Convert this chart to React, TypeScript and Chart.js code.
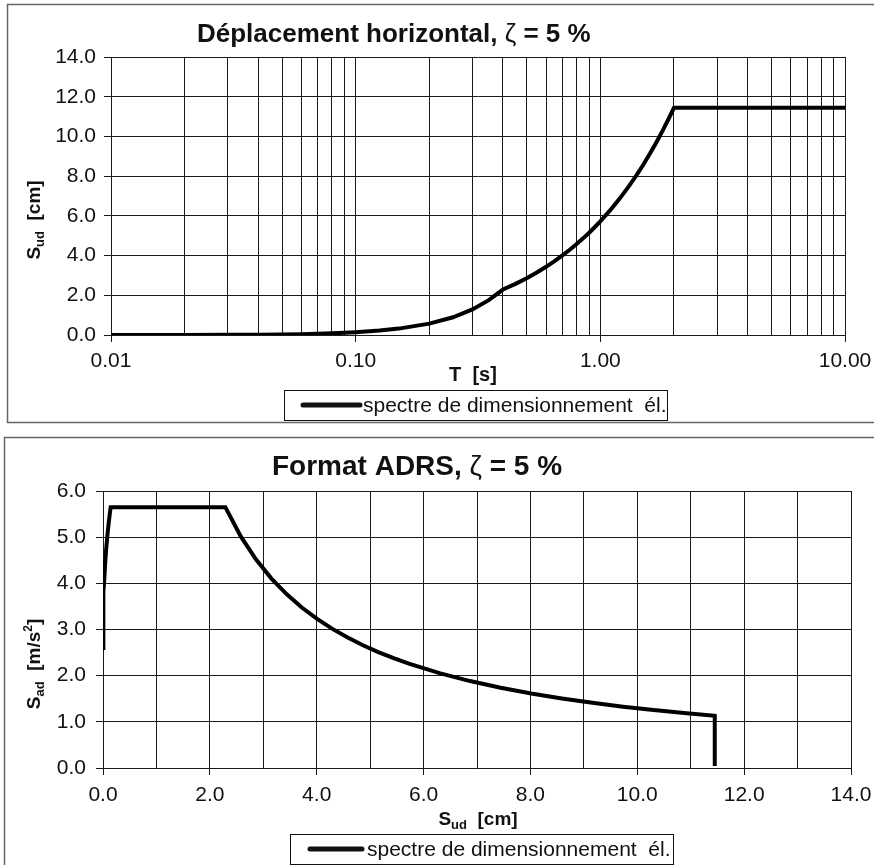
import React, { useEffect, useRef } from "react";
import { Chart, registerables } from "chart.js";

Chart.register(...registerables);

// ---------- data ----------
// Top chart: elastic design displacement spectrum Sud(T)
const periods = [
  0.01, 0.02, 0.03, 0.04, 0.05, 0.06, 0.07, 0.08, 0.09, 0.1, 0.125, 0.15, 0.2,
  0.25, 0.3, 0.35, 0.4, 0.45, 0.5, 0.55, 0.6, 0.65, 0.7, 0.75, 0.8, 0.85, 0.9,
  0.95, 1.0, 1.1, 1.2, 1.3, 1.4, 1.5, 1.6, 1.7, 1.8, 1.9, 2.0, 2.5, 3.0, 4.0,
  5.0, 6.0, 7.0, 8.0, 9.0, 10.0,
];
const displacementCm = [
  0.001, 0.003, 0.008, 0.016, 0.026, 0.04, 0.059, 0.082, 0.11, 0.143, 0.224,
  0.322, 0.572, 0.894, 1.288, 1.753, 2.29, 2.576, 2.862, 3.149, 3.435, 3.721,
  4.007, 4.294, 4.58, 4.866, 5.152, 5.439, 5.725, 6.298, 6.87, 7.443, 8.015,
  8.588, 9.16, 9.733, 10.305, 10.878, 11.45, 11.45, 11.45, 11.45, 11.45, 11.45,
  11.45, 11.45, 11.45, 11.45,
];

// Bottom chart: ADRS format Sad(Sud)
const adrsDisplacementCm = [
  0, 0.001, 0.003, 0.008, 0.016, 0.026, 0.04, 0.059, 0.082, 0.11, 0.143, 0.224,
  0.322, 0.572, 0.894, 1.288, 1.753, 2.29, 2.576, 2.862, 3.149, 3.435, 3.721,
  4.007, 4.294, 4.58, 4.866, 5.152, 5.439, 5.725, 6.298, 6.87, 7.443, 8.015,
  8.588, 9.16, 9.733, 10.305, 10.878, 11.45, 11.45, 11.45, 11.45, 11.45, 11.45,
  11.45, 11.45, 11.45, 11.45,
];
const adrsAcceleration = [
  2.6, 2.905, 3.21, 3.515, 3.82, 4.125, 4.43, 4.735, 5.04, 5.345, 5.65, 5.65,
  5.65, 5.65, 5.65, 5.65, 5.65, 5.65, 5.022, 4.52, 4.109, 3.767, 3.477, 3.229,
  3.013, 2.825, 2.659, 2.511, 2.379, 2.26, 2.055, 1.883, 1.738, 1.614, 1.507,
  1.413, 1.329, 1.256, 1.189, 1.13, 0.723, 0.502, 0.283, 0.181, 0.126, 0.092,
  0.071, 0.056, 0.045,
];

// Tick / grid values
const periodGrid = [
  0.01, 0.02, 0.03, 0.04, 0.05, 0.06, 0.07, 0.08, 0.09, 0.1, 0.2, 0.3, 0.4, 0.5,
  0.6, 0.7, 0.8, 0.9, 1, 2, 3, 4, 5, 6, 7, 8, 9, 10,
];
const periodLabels = [0.01, 0.1, 1, 10];
const displacementTicks = [0, 2, 4, 6, 8, 10, 12, 14];
const adrsXGrid = [0, 1, 2, 3, 4, 5, 6, 7, 8, 9, 10, 11, 12, 13, 14];
const adrsXLabels = [0, 2, 4, 6, 8, 10, 12, 14];
const accelerationTicks = [0, 1, 2, 3, 4, 5, 6];

const legendText = "spectre de dimensionnement  él.";
const topTitle = "Déplacement horizontal,";
const bottomTitle = "Format ADRS,";
const dampingSymbol = "ζ";
const dampingValue = "= 5 %";

// ---------- drawing helpers ----------
const FONT = '"Liberation Sans", Arial, Helvetica, sans-serif';
const INK = "#111";

type Run = { text: string; font: string; dy?: number };

function runsWidth(ctx: CanvasRenderingContext2D, runs: Run[]) {
  let w = 0;
  for (const r of runs) {
    ctx.font = r.font;
    w += ctx.measureText(r.text).width;
  }
  return w;
}

function drawRuns(
  ctx: CanvasRenderingContext2D,
  runs: Run[],
  x: number,
  baseline: number,
  opts: { rotate?: boolean; align?: "center" | "left" } = {}
) {
  ctx.save();
  ctx.fillStyle = INK;
  ctx.textBaseline = "alphabetic";
  ctx.textAlign = "left";
  const w = runsWidth(ctx, runs);
  if (opts.rotate) {
    ctx.translate(x, baseline);
    ctx.rotate(-Math.PI / 2);
    x = 0;
    baseline = 0;
  }
  let cx = opts.align === "left" ? x : x - w / 2;
  for (const r of runs) {
    ctx.font = r.font;
    ctx.fillText(r.text, cx, baseline + (r.dy || 0));
    cx += ctx.measureText(r.text).width;
  }
  ctx.restore();
}

function drawLegend(
  ctx: CanvasRenderingContext2D,
  box: { x: number; y: number; w: number; h: number },
  lineX0: number,
  lineX1: number,
  textX: number
) {
  ctx.save();
  ctx.strokeStyle = "#111";
  ctx.lineWidth = 1;
  ctx.strokeRect(box.x + 0.5, box.y + 0.5, box.w, box.h);
  const cy = box.y + box.h / 2;
  ctx.beginPath();
  ctx.lineWidth = 5;
  ctx.lineCap = "round";
  ctx.moveTo(lineX0, cy);
  ctx.lineTo(lineX1, cy);
  ctx.stroke();
  ctx.fillStyle = INK;
  ctx.font = `21px ${FONT}`;
  ctx.textBaseline = "middle";
  ctx.textAlign = "left";
  ctx.fillText(legendText, textX, cy + 1);
  ctx.restore();
}

function drawFrame(
  ctx: CanvasRenderingContext2D,
  x: number,
  y: number,
  w: number,
  h: number
) {
  ctx.save();
  ctx.strokeStyle = "#666";
  ctx.lineWidth = 1.5;
  ctx.strokeRect(x, y, w, h);
  ctx.restore();
}

function titleRuns(main: string, size: number): Run[] {
  return [
    { text: main + " ", font: `bold ${size}px ${FONT}` },
    { text: dampingSymbol, font: `${size}px ${FONT}` },
    { text: " " + dampingValue, font: `bold ${size}px ${FONT}` },
  ];
}

const isDecade = (v: number) => {
  const l = Math.log10(v);
  return Math.abs(l - Math.round(l)) < 1e-9;
};

const tickFont = { family: FONT, size: 21 };
const GRID = "#1a1a1a";

// ---------- chart configs ----------
function topConfig(): any {
  const decor = {
    id: "decorTop",
    afterDraw(chart: any) {
      const ctx = chart.ctx as CanvasRenderingContext2D;
      drawFrame(ctx, 7.5, 4.5, 900, 418);
      drawRuns(ctx, titleRuns(topTitle, 26), 197, 42, { align: "left" });
      drawRuns(
        ctx,
        [
          { text: "S", font: `bold 19px ${FONT}` },
          { text: "ud", font: `bold 13px ${FONT}`, dy: 4 },
          { text: "  [cm]", font: `bold 19px ${FONT}` },
        ],
        40,
        220,
        { rotate: true }
      );
      drawRuns(ctx, [{ text: "T  [s]", font: `bold 20px ${FONT}` }], 473, 381);
      drawLegend(ctx, { x: 284, y: 390, w: 383, h: 30 }, 303, 360, 363);
    },
  };
  return {
    type: "scatter",
    data: {
      datasets: [
        {
          label: legendText,
          data: periods.map((t, i) => ({ x: t, y: displacementCm[i] })),
          showLine: true,
          borderColor: "#000",
          borderWidth: 4,
          pointRadius: 0,
          tension: 0,
        },
      ],
    },
    options: {
      animation: false,
      responsive: false,
      devicePixelRatio: 1,
      layout: { padding: { left: 0, right: 29, top: 57, bottom: 0 } },
      plugins: {
        legend: { display: false },
        title: { display: false },
        tooltip: { enabled: false },
      },
      scales: {
        x: {
          type: "logarithmic",
          min: 0.01,
          max: 10,
          afterBuildTicks: (scale: any) => {
            scale.ticks = periodGrid.map((v) => ({ value: v, major: isDecade(v) }));
          },
          afterFit: (scale: any) => {
            scale.height = 95;
            scale.paddingLeft = 0;
            scale.paddingRight = 0;
          },
          ticks: {
            autoSkip: false,
            maxRotation: 0,
            padding: 7,
            color: INK,
            font: tickFont,
            callback: (v: number) =>
              periodLabels.some((p) => Math.abs(p - v) < 1e-9)
                ? Number(v).toFixed(2)
                : "",
          },
          grid: {
            color: GRID,
            lineWidth: 1,
            tickLength: 7,
            tickColor: (c: any) =>
              c.tick && isDecade(c.tick.value) ? GRID : "rgba(0,0,0,0)",
          },
          border: { color: GRID, width: 1 },
        },
        y: {
          type: "linear",
          min: 0,
          max: 14,
          afterBuildTicks: (scale: any) => {
            scale.ticks = displacementTicks.map((v) => ({ value: v }));
          },
          afterFit: (scale: any) => {
            scale.width = 111;
            scale.paddingTop = 0;
            scale.paddingBottom = 0;
          },
          ticks: {
            padding: 8,
            color: INK,
            font: tickFont,
            callback: (v: number) => Number(v).toFixed(1),
          },
          grid: { color: GRID, lineWidth: 1, tickLength: 7, tickColor: GRID },
          border: { color: GRID, width: 1 },
        },
      },
    },
    plugins: [decor],
  };
}

function bottomConfig(): any {
  const decor = {
    id: "decorBottom",
    afterDraw(chart: any) {
      const ctx = chart.ctx as CanvasRenderingContext2D;
      drawFrame(ctx, 4.5, 7.5, 900, 500);
      drawRuns(ctx, titleRuns(bottomTitle, 28), 272, 45, { align: "left" });
      drawRuns(
        ctx,
        [
          { text: "S", font: `bold 19px ${FONT}` },
          { text: "ad", font: `bold 13px ${FONT}`, dy: 4 },
          { text: "  [m/s", font: `bold 19px ${FONT}` },
          { text: "2", font: `bold 12px ${FONT}`, dy: -8 },
          { text: "]", font: `bold 19px ${FONT}` },
        ],
        40,
        234,
        { rotate: true }
      );
      drawRuns(
        ctx,
        [
          { text: "S", font: `bold 19px ${FONT}` },
          { text: "ud", font: `bold 13px ${FONT}`, dy: 4 },
          { text: "  [cm]", font: `bold 19px ${FONT}` },
        ],
        478,
        395
      );
      drawLegend(ctx, { x: 290, y: 404, w: 383, h: 30 }, 310, 362, 367);
    },
  };
  return {
    type: "scatter",
    data: {
      datasets: [
        {
          label: legendText,
          data: adrsDisplacementCm.map((d, i) => ({ x: d, y: adrsAcceleration[i] })),
          showLine: true,
          borderColor: "#000",
          borderWidth: 4,
          pointRadius: 0,
          tension: 0,
        },
      ],
    },
    options: {
      animation: false,
      responsive: false,
      devicePixelRatio: 1,
      layout: { padding: { left: 0, right: 23, top: 61, bottom: 0 } },
      plugins: {
        legend: { display: false },
        title: { display: false },
        tooltip: { enabled: false },
      },
      scales: {
        x: {
          type: "linear",
          min: 0,
          max: 14,
          afterBuildTicks: (scale: any) => {
            scale.ticks = adrsXGrid.map((v) => ({ value: v }));
          },
          afterFit: (scale: any) => {
            scale.height = 435 - 338;
            scale.paddingLeft = 0;
            scale.paddingRight = 0;
          },
          ticks: {
            autoSkip: false,
            maxRotation: 0,
            padding: 8,
            color: INK,
            font: tickFont,
            callback: (v: number) =>
              adrsXLabels.includes(v) ? Number(v).toFixed(1) : "",
          },
          grid: {
            color: GRID,
            lineWidth: 1,
            tickLength: 7,
            tickColor: (c: any) =>
              c.tick && adrsXLabels.includes(c.tick.value) ? GRID : "rgba(0,0,0,0)",
          },
          border: { color: GRID, width: 1 },
        },
        y: {
          type: "linear",
          min: 0,
          max: 6,
          afterBuildTicks: (scale: any) => {
            scale.ticks = accelerationTicks.map((v) => ({ value: v }));
          },
          afterFit: (scale: any) => {
            scale.width = 103;
            scale.paddingTop = 0;
            scale.paddingBottom = 0;
          },
          ticks: {
            padding: 10,
            color: INK,
            font: tickFont,
            callback: (v: number) => Number(v).toFixed(1),
          },
          grid: { color: GRID, lineWidth: 1, tickLength: 7, tickColor: GRID },
          border: { color: GRID, width: 1 },
        },
      },
    },
    plugins: [decor],
  };
}

function ChartCanvas({
  make,
  width,
  height,
  top,
}: {
  make: () => any;
  width: number;
  height: number;
  top: number;
}) {
  const ref = useRef<HTMLCanvasElement | null>(null);
  useEffect(() => {
    if (!ref.current) return;
    const chart = new Chart(ref.current, make());
    return () => chart.destroy();
  }, []);
  return (
    <canvas
      ref={ref}
      width={width}
      height={height}
      style={{ position: "absolute", left: 0, top, width, height, display: "block" }}
    />
  );
}

export default function App() {
  return (
    <div
      style={{
        position: "absolute",
        left: 0,
        top: 0,
        width: 874,
        height: 865,
        background: "#fff",
        overflow: "hidden",
      }}
    >
      <ChartCanvas make={topConfig} width={874} height={430} top={0} />
      <ChartCanvas make={bottomConfig} width={874} height={435} top={430} />
    </div>
  );
}
